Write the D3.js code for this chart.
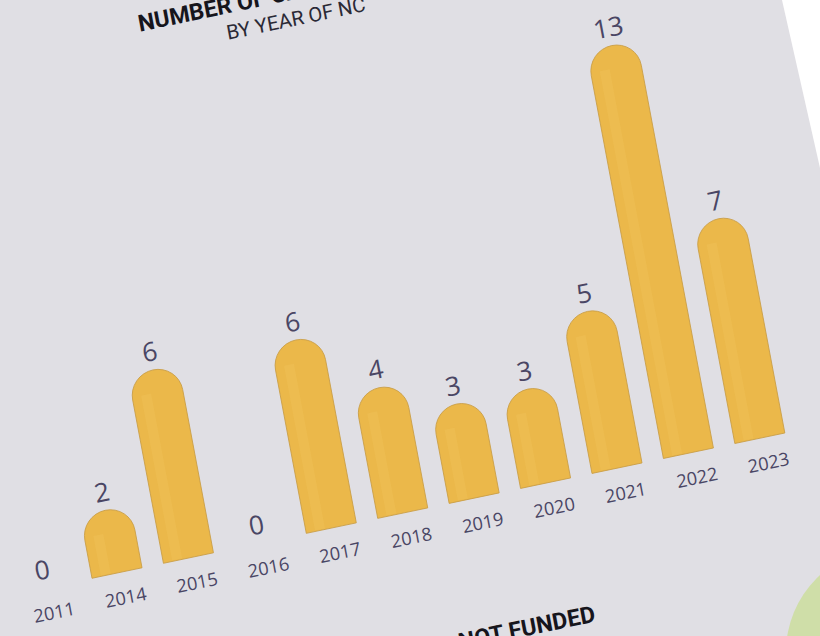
<!DOCTYPE html>
<html>
<head>
<meta charset="utf-8">
<script src="https://cdn.jsdelivr.net/npm/d3@7"></script>
<style>
  html, body { margin: 0; padding: 0; background: #e0dfe4; }
  svg { display: block; }
</style>
</head>
<body>
<svg id="chart" width="820" height="636"></svg>
<script>
// ---- data ----
const years  = ["2011","2014","2015","2016","2017","2018","2019","2020","2021","2022","2023"];
const values = [0, 2, 6, 0, 6, 4, 3, 3, 5, 13, 7];
const titleLine1 = "NUMBER OF CASES";
const titleLine2 = "BY YEAR OF NC";
const footerText = "NOT FUNDED";

// ---- drawing ----
const W = 820, H = 636;
const svg = d3.select("#chart");

svg.append("rect").attr("width", W).attr("height", H).attr("fill", "#e0dfe4");

// white area beyond the paper edge (top right)
svg.append("path")
  .attr("d", "M782,0 L820,168 L820,0 Z")
  .attr("fill", "#ffffff");

// green circle, bottom right
svg.append("circle")
  .attr("cx", 890).attr("cy", 652).attr("r", 104)
  .attr("fill", "#cfdea8");

// photographed page: tilted plane
const g = svg.append("g")
  .attr("transform", "matrix(0.992,-0.208,0.186,0.987,45.6,588)");

const x = d3.scaleBand()
  .domain(years)
  .range([-36, years.length * 72 - 36])
  .paddingInner(0.3)
  .paddingOuter(0.15);

const y = d3.scaleLinear().domain([0, 13]).range([0, -413]);

const bw = x.bandwidth();
const r = bw / 2;

function barPath(d, i) {
  const v = values[i];
  if (v <= 0) return null;
  const x0 = x(d), x1 = x0 + bw;
  const top = y(v);
  const p = d3.path();
  p.moveTo(x0, 0);
  p.lineTo(x0, top + r);
  p.arc(x0 + r, top + r, r, Math.PI, 0, false);
  p.lineTo(x1, 0);
  p.closePath();
  return p.toString();
}

const bars = g.selectAll("path.bar")
  .data(years)
  .join("path")
  .attr("class", "bar")
  .attr("d", (d, i) => barPath(d, i))
  .attr("fill", "#ebb84a")
  .attr("stroke", "#c99d45")
  .attr("stroke-width", 0.8)
  .attr("display", (d, i) => values[i] > 0 ? null : "none");

// subtle lighter stripe
g.selectAll("rect.stripe")
  .data(years.filter((d, i) => values[i] > 0))
  .join("rect")
  .attr("class", "stripe")
  .attr("x", d => x(d) + 9)
  .attr("width", 10)
  .attr("y", d => y(values[years.indexOf(d)]) + r * 0.9)
  .attr("height", d => Math.max(0, -y(values[years.indexOf(d)]) - r * 0.9 - 1))
  .attr("fill", "#f0c258")
  .attr("opacity", 0.45);

// value labels
g.selectAll("text.val")
  .data(years)
  .join("text")
  .attr("class", "val")
  .attr("x", d => x(d) + bw / 2)
  .attr("y", (d, i) => y(values[i]) - 9)
  .attr("text-anchor", "middle")
  .attr("font-family", "'Open Sans', 'Noto Sans', sans-serif")
  .attr("font-size", 26)
  .attr("fill", "#4a4664")
  .text((d, i) => values[i]);

// year labels
g.selectAll("text.year")
  .data(years)
  .join("text")
  .attr("class", "year")
  .attr("x", d => x(d) + bw / 2 + 4)
  .attr("y", 32)
  .attr("text-anchor", "middle")
  .attr("font-family", "'Open Sans', 'Noto Sans', sans-serif")
  .attr("font-size", 18)
  .attr("fill", "#4a4664")
  .text(d => d);

// titles
g.append("text")
  .attr("x", 193).attr("y", -523)
  .attr("font-family", "Roboto, sans-serif")
  .attr("font-weight", 700)
  .attr("font-size", 23)
  .attr("fill", "#16151c")
  .text(titleLine1);

g.append("text")
  .attr("x", 277).attr("y", -497)
  .attr("font-family", "Roboto, sans-serif")
  .attr("font-weight", 400)
  .attr("font-size", 20)
  .attr("fill", "#2a2935")
  .text(titleLine2);

g.append("text")
  .attr("x", 528).attr("y", 145)
  .attr("text-anchor", "end")
  .attr("font-family", "Roboto, sans-serif")
  .attr("font-weight", 700)
  .attr("font-size", 23)
  .attr("fill", "#16151c")
  .text(footerText);
</script>
</body>
</html>
